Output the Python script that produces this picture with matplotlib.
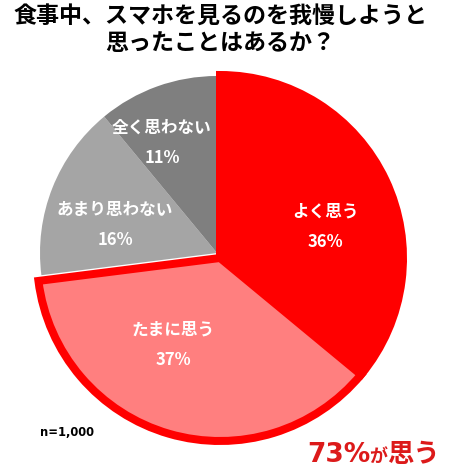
import matplotlib
matplotlib.use("Agg")
import matplotlib.pyplot as plt

plt.rcParams['font.family'] = ['Noto Sans CJK JP', 'DejaVu Sans']

# ---- data ----
categories = ["よく思う", "たまに思う", "あまり思わない", "全く思わない"]
values = [36, 37, 16, 11]
colors = ["#FF0000", "#FF7F7F", "#A5A5A5", "#7F7F7F"]
title_lines = ["食事中、スマホを見るのを我慢しようと", "思ったことはあるか？"]
sample_note = "n=1,000"
highlight_total = 73

W, H = 461, 473
DPI = 100
fig = plt.figure(figsize=(W / DPI, H / DPI), dpi=DPI)
ax = fig.add_axes([0, 0, 1, 1])

def Y(y):
    return H - y

center = (217, Y(253))
wedges, _ = ax.pie(values, colors=colors, startangle=90, counterclock=False,
                   center=center, radius=177, frame=True,
                   wedgeprops=dict(linewidth=0))
ax.set_xlim(0, W)
ax.set_ylim(0, H)
ax.axis('off')

# highlight group (よく思う + たまに思う): enlarged, slightly offset, thick red border
group_center = (220, Y(258))
for w in wedges[:2]:
    w.set_center(group_center)
    w.set_radius(183)
    w.set_edgecolor("#FF0000")
    w.set_linewidth(8 * 72 / DPI)
    w.set_joinstyle('miter')
    w.set_zorder(3)

# slice labels
label_pos = [(325, 212, 242), (173, 330, 360), (115, 210, 240), (162, 128, 158)]
for (x, y1, y2), cat, v in zip(label_pos, categories, values):
    ax.text(x, Y(y1), cat, color='white', fontsize=12, fontweight='bold',
            ha='center', va='center', zorder=5)
    ax.text(x, Y(y2), f"{v}%", color='white', fontsize=12, fontweight='bold',
            ha='center', va='center', zorder=5)

# title
ax.text(220, Y(17), title_lines[0], fontsize=16.6, fontweight='bold',
        ha='center', va='center', color='black')
ax.text(220, Y(44), title_lines[1], fontsize=16.6, fontweight='bold',
        ha='center', va='center', color='black')

# sample size
ax.text(40, Y(432), sample_note, fontsize=8.3, fontweight='bold',
        ha='left', va='center', color='black', family=['DejaVu Sans'])

# highlight caption
red_txt = "#DC1A1A"
ax.text(307, Y(462), f"{highlight_total}%", fontsize=19, fontweight='bold',
        ha='left', va='baseline', color=red_txt, family=['DejaVu Sans'])
ax.text(369, Y(462), "が", fontsize=13, fontweight='bold',
        ha='left', va='baseline', color=red_txt)
ax.text(387, Y(462), "思う", fontsize=19, fontweight='bold',
        ha='left', va='baseline', color=red_txt)

fig.savefig("out.png", dpi=DPI)
